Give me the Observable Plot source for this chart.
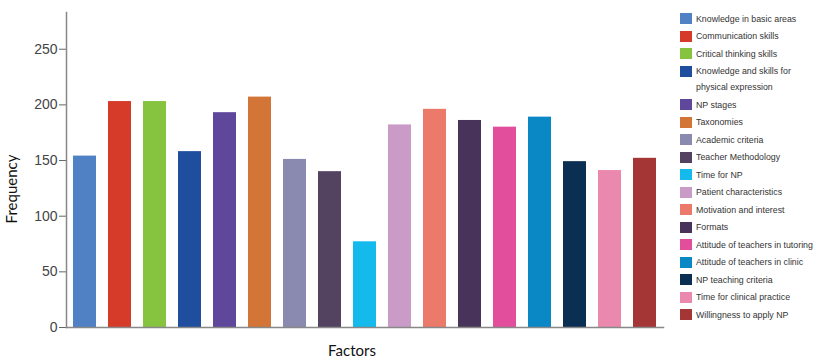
<!DOCTYPE html>
<html>
<head>
<meta charset="utf-8">
<script src="https://cdn.jsdelivr.net/npm/d3@7"></script>
<script src="https://cdn.jsdelivr.net/npm/@observablehq/plot@0.6"></script>
<style>
  html, body { margin: 0; padding: 0; background: #fff; }
  #wrap { position: relative; width: 821px; height: 362px; overflow: hidden; font-family: "Liberation Sans", Arial, sans-serif; }
  #legend { position: absolute; left: 680px; top: 10px; width: 141px; font-size: 8.8px; color: #333; }
  .item { display: flex; align-items: flex-start; padding: 0.75px 0; }
  .sw { width: 12px; height: 11px; flex: none; margin-right: 4px; margin-top: 2.5px; }
  .lab { line-height: 16px; }
  #ylab { position: absolute; left: 11px; top: 189px; transform: translate(-50%, -50%) rotate(-90deg); font-family: Lato, "Open Sans", sans-serif; font-size: 15px; color: #111; white-space: nowrap; }
  #xlab { position: absolute; left: 352px; top: 341px; transform: translateX(-50%); font-family: Lato, "Open Sans", sans-serif; font-size: 15px; color: #111; white-space: nowrap; }
</style>
</head>
<body>
<div id="wrap">
  <div id="chart"></div>
  <div id="ylab">Frequency</div>
  <div id="xlab">Factors</div>
  <div id="legend"></div>
</div>
<script>
const categories = [
  "Knowledge in basic areas",
  "Communication skills",
  "Critical thinking skills",
  "Knowledge and skills for physical expression",
  "NP stages",
  "Taxonomies",
  "Academic criteria",
  "Teacher Methodology",
  "Time for NP",
  "Patient characteristics",
  "Motivation and interest",
  "Formats",
  "Attitude of teachers in tutoring",
  "Attitude of teachers in clinic",
  "NP teaching criteria",
  "Time for clinical practice",
  "Willingness to apply NP"
];
const frequencies = [154, 203, 203, 158, 193, 207, 151, 140, 77, 182, 196, 186, 180, 189, 149, 141, 152];
const colors = [
  "#4F81C4", "#D63B2A", "#86C440", "#1F4E9F", "#5F479C", "#D27536",
  "#8A89AF", "#544360", "#15BAED", "#CB9BC8", "#EC7A6B", "#48345A",
  "#E34E9C", "#0A87C5", "#0A2F52", "#EA88AD", "#A53636"
];
const yTicks = [0, 50, 100, 150, 200, 250];

const data = categories.map((c, i) => ({category: c, value: frequencies[i]}));

const chart = Plot.plot({
  width: 821,
  height: 362,
  marginLeft: 66,
  marginRight: 158,
  marginTop: 12,
  marginBottom: 35,
  style: {fontFamily: "'Liberation Sans', Arial, sans-serif", fontSize: "14px", color: "#444", background: "white"},
  x: {domain: categories, paddingInner: 0.33, paddingOuter: 0.17, axis: null},
  y: {domain: [0, 283], axis: null},
  color: {domain: categories, range: colors},
  marks: [
    Plot.barY(data, {x: "category", y: "value", fill: "category"}),
    Plot.axisY({ticks: yTicks, tickSize: 7, tickPadding: 2, label: null, stroke: "#666", fill: "#444", fontSize: 14}),
    Plot.frame({anchor: "left", stroke: "#888", strokeWidth: 1.5}),
    Plot.frame({anchor: "bottom", stroke: "#888", strokeWidth: 1.5})
  ]
});
document.getElementById("chart").appendChild(chart);

const legend = document.getElementById("legend");
const legendNames = categories.map(c => c === "Knowledge and skills for physical expression" ? "Knowledge and skills for<br>physical expression" : c);
categories.forEach((c, i) => {
  const item = document.createElement("div");
  item.className = "item";
  const sw = document.createElement("span");
  sw.className = "sw";
  sw.style.background = colors[i];
  const lab = document.createElement("span");
  lab.className = "lab";
  lab.innerHTML = legendNames[i];
  item.appendChild(sw);
  item.appendChild(lab);
  legend.appendChild(item);
});
</script>
</body>
</html>
